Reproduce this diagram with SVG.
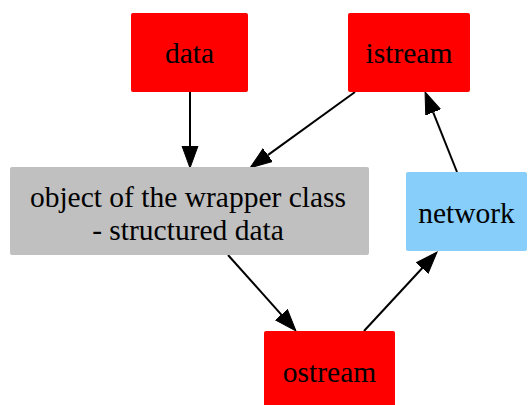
<svg xmlns="http://www.w3.org/2000/svg" width="529" height="405" viewBox="0 0 529 405">
  <style>
    .lbl { font-family: "Liberation Serif", "Times New Roman", serif; font-size: 29.5px; fill: #000; text-anchor: middle; }
    .edge { stroke: #000; stroke-width: 2; fill: none; }
  </style>
  <defs>
    <marker id="arrow" markerUnits="userSpaceOnUse" markerWidth="24" markerHeight="18" refX="0" refY="8" orient="auto" viewBox="0 0 24 16">
      <path d="M0,0 L22,8 L0,16 Z" fill="#000" stroke="#000" stroke-width="1"/>
    </marker>
  </defs>
  <rect width="529" height="405" fill="#fff"/>

  <g id="connectors">
    <path class="edge" d="M190,92 L190,146" marker-end="url(#arrow)"/>
    <path class="edge" d="M355,92 L267.8,155.1" marker-end="url(#arrow)"/>
    <path class="edge" d="M228,255 L281.3,314.6" marker-end="url(#arrow)"/>
    <path class="edge" d="M364,331 L422.1,268.2" marker-end="url(#arrow)"/>
    <path class="edge" d="M457,172 L433.2,112.4" marker-end="url(#arrow)"/>
  </g>

  <g id="data">
    <rect x="131" y="13" width="117" height="79" rx="2" fill="#ff0000"/>
    <text class="lbl" x="189.5" y="63">data</text>
  </g>
  <g id="istream">
    <rect x="348" y="13" width="122" height="79" rx="2" fill="#ff0000"/>
    <text class="lbl" x="409" y="63">istream</text>
  </g>
  <g id="wrapper">
    <rect x="10" y="167" width="359" height="88" rx="2" fill="#c0c0c0"/>
    <text class="lbl" x="188" y="207">object of the wrapper class</text>
    <text class="lbl" x="188" y="240">- structured data</text>
  </g>
  <g id="network">
    <rect x="406" y="172" width="121" height="79" rx="2" fill="#87cefa"/>
    <text class="lbl" x="466.5" y="223">network</text>
  </g>
  <g id="ostream">
    <rect x="264" y="331" width="131" height="79" rx="2" fill="#ff0000"/>
    <text class="lbl" x="329.5" y="382">ostream</text>
  </g>
</svg>
